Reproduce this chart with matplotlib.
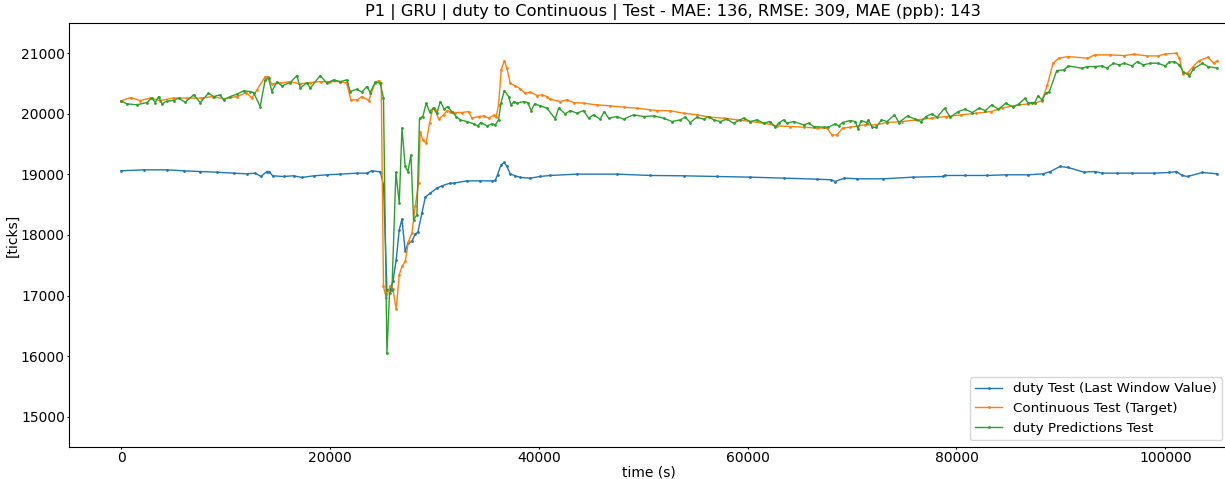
import matplotlib
matplotlib.use('Agg')
import matplotlib.pyplot as plt

# duty Test (Last Window Value)
t_duty = [0, 2140, 4370, 5970, 7570, 9170, 10760, 12040, 12840, 13380, 13950, 14180, 14500,
          15550, 16510, 17300, 18420, 19700, 20980, 22570, 23530, 24010, 24810, 25120, 25450,
          25770, 26020, 26340, 26630, 26890, 27200, 27460, 27840, 28160, 28410, 28800, 29130,
          29600, 30240, 30720, 31510, 31830, 33110, 34390, 35510, 35820, 36040, 36370, 36690,
          36940, 37260, 37740, 38220, 39180, 40130, 41090, 43650, 47480, 50670, 53860, 57050,
          60250, 63440, 66640, 68010, 68370, 69270, 70480, 73000, 75840, 78680, 78860, 80810,
          82940, 84720, 86860, 88300, 89000, 89900, 90700, 92180, 93250, 93970, 95380, 96800,
          98940, 100350, 101070, 101600, 102140, 103550, 104980]
v_duty = [19060, 19076, 19076, 19060, 19048, 19037, 19021, 19010, 19021, 18966, 19048, 19048, 18977,
          18966, 18977, 18950, 18977, 18994, 19005, 19021, 19021, 19060, 19043, 18829, 17096,
          17096, 17233, 17591, 18086, 18262, 17728, 17866, 17893, 18020, 18042, 18362, 18625,
          18691, 18774, 18812, 18857, 18856, 18894, 18894, 18894, 18900, 18994, 19158, 19197,
          19131, 19010, 18977, 18950, 18939, 18966, 18983, 19005, 19005, 18983, 18977, 18966,
          18955, 18939, 18922, 18911, 18883, 18939, 18928, 18928, 18955, 18966, 18983, 18983,
          18983, 18994, 18994, 19010, 19048, 19131, 19115, 19038, 19048, 19021, 19021, 19021,
          19021, 19032, 19048, 18983, 18966, 19032, 19010]

# Continuous Test (Target)
t_cont = [0, 900, 1800, 2800, 3700, 5000, 6300, 7600, 8800, 9800, 11100, 12000, 12500, 13000,
          13800, 14100, 14400, 15200, 16200, 17100, 18100, 19100, 20000, 21000, 21600, 22000,
          22600, 23050, 23700, 24330, 24650, 24900, 25120, 25380, 25770, 26020, 26340, 26630,
          26890, 27200, 27520, 27840, 28160, 28480, 28640, 28890, 29210, 29530, 29850, 30080,
          30400, 30880, 31190, 31510, 31990, 32630, 33270, 33590, 34230, 34710, 35190, 35660,
          35920, 36140, 36400, 36690, 36940, 37260, 37740, 38220, 38700, 39180, 39820, 40300,
          40770, 41090, 42050, 42690, 43330, 44280, 45560, 46840, 48110, 49390, 50670, 51310,
          52590, 53860, 55140, 56420, 57690, 58970, 60250, 61530, 62800, 64080, 65360, 66640,
          67600, 68070, 68550, 69090, 69800, 71220, 72290, 73350, 74770, 76190, 77610, 79030,
          80460, 81880, 83300, 84370, 85430, 86860, 87500, 88200, 88700, 89250, 89800, 90700,
          92540, 93250, 94670, 96090, 96980, 98230, 99290, 100000, 101070, 101350, 101700,
          102140, 102670, 103200, 104090, 104630, 104980]
v_cont = [20215, 20270, 20220, 20260, 20220, 20260, 20260, 20260, 20286, 20248, 20286, 20352, 20260, 20396,
          20616, 20616, 20490, 20506, 20533, 20495, 20517, 20533, 20533, 20533, 20506, 20231,
          20231, 20286, 20220, 20517, 20550, 20506, 17150, 16959, 17162, 17107, 16777, 17343,
          17481, 17563, 17893, 18031, 18471, 18857, 19708, 19571, 19516, 19846, 20094, 20066,
          19912, 19984, 20050, 20038, 20022, 20022, 20038, 19929, 19956, 19967, 19929, 19973,
          19956, 20148, 20726, 20880, 20754, 20506, 20462, 20413, 20341, 20358, 20303, 20314,
          20286, 20242, 20204, 20231, 20187, 20176, 20148, 20132, 20110, 20094, 20066, 20055,
          20050, 20011, 19984, 19945, 19929, 19901, 19873, 19846, 19802, 19791, 19780, 19764,
          19764, 19653, 19653, 19764, 19780, 19818, 19818, 19857, 19873, 19901, 19929, 19956,
          19984, 20011, 20038, 20094, 20132, 20165, 20176, 20220, 20478, 20836, 20919, 20946,
          20919, 20974, 20974, 20962, 20985, 20957, 20957, 20990, 21001, 20919, 20660,
          20676, 20781, 20875, 20935, 20836, 20880]

# duty Predictions Test
t_pred = [0, 540, 1500, 2460, 2940, 3260, 3580, 3900, 4370, 5010, 5490, 6130, 6930, 7570, 8360,
          8840, 9480, 9800, 10440, 11080, 11720, 12360, 12680, 13310, 13790, 14110, 14430, 14910,
          15390, 16190, 16830, 17150, 17790, 18100, 19060, 19700, 20340, 20980, 21620, 21930,
          22570, 23050, 23530, 23850, 24330, 24810, 25120, 25450, 25700, 25930, 26310, 26630,
          26890, 27200, 27460, 27750, 28000, 28320, 28570, 28890, 29210, 29530, 29920, 30240,
          30560, 30940, 31260, 31670, 32090, 32470, 33110, 33750, 34130, 34450, 35030, 35510,
          35820, 36140, 36370, 36690, 37100, 37330, 37640, 37900, 38540, 38920, 39270, 39590,
          40130, 40770, 41570, 41890, 42530, 43010, 43650, 44280, 44760, 45240, 45880, 46260,
          46680, 47480, 48110, 49070, 50030, 50990, 51950, 52750, 53540, 54020, 54500, 55140,
          55780, 56260, 56740, 57380, 58020, 58650, 59290, 59610, 60250, 60890, 61530, 62160,
          62640, 62960, 63440, 63760, 64400, 65360, 65840, 66320, 67280, 67740, 68370, 68730,
          69090, 69800, 70320, 70570, 70860, 71400, 71570, 71920, 72290, 72810, 73350, 74060,
          74490, 75310, 76020, 76630, 77080, 77610, 78150, 78860, 79400, 80170, 80810, 81520,
          82160, 82770, 83370, 84010, 84720, 85430, 85970, 86570, 86860, 87200, 87500, 87800,
          88200, 88550, 88900, 89600, 90300, 90700, 92010, 92540, 93250, 93970, 94390, 95030,
          95560, 96090, 96800, 97340, 97870, 98580, 99290, 100000, 100350, 100880, 101350,
          101700, 102310, 102670, 103550, 104090, 104980]
v_pred = [20215, 20165, 20150, 20187, 20260, 20187, 20286, 20165, 20210, 20220, 20260, 20190, 20314, 20187, 20341,
          20286, 20314, 20231, 20286, 20325, 20380, 20369, 20352, 20121, 20561, 20589, 20369, 20533,
          20462, 20517, 20633, 20424, 20517, 20424, 20633, 20506, 20561, 20533, 20561, 20369,
          20407, 20358, 20451, 20352, 20523, 20506, 20258, 16051, 17041, 17096, 19032, 18526,
          19764, 19131, 19048, 19323, 18251, 18334, 19928, 19956, 20176, 20038, 20094, 20011,
          20204, 20077, 20121, 20038, 19956, 19901, 19873, 19835, 19802, 19857, 19802, 19835,
          19818, 19901, 20176, 20385, 20286, 20148, 20204, 20176, 20204, 20187, 20055, 20165,
          20132, 20094, 19918, 20094, 20000, 20055, 20011, 20055, 19929, 19984, 19912, 20038,
          19929, 19956, 19912, 19984, 19956, 19967, 19929, 19873, 19901, 19945, 19857, 19945,
          19912, 19956, 19901, 19873, 19912, 19846, 19901, 19929, 19873, 19901, 19846, 19873,
          19780, 19846, 19901, 19846, 19873, 19818, 19846, 19791, 19780, 19780, 19835, 19802,
          19857, 19890, 19873, 19747, 19890, 19857, 19901, 19780, 19775, 19901, 19873, 19984,
          19857, 19967, 19912, 19873, 19956, 20000, 19945, 20094, 19945, 20038, 20077, 20022,
          20094, 20055, 20148, 20077, 20176, 20110, 20165, 20258, 20176, 20187, 20187, 20297,
          20231, 20341, 20369, 20715, 20726, 20792, 20754, 20781, 20781, 20792, 20754, 20836,
          20808, 20836, 20792, 20863, 20808, 20836, 20836, 20792, 20853, 20863, 20808,
          20698, 20627, 20737, 20836, 20781, 20754]

title = 'P1 | GRU | duty to Continuous | Test - MAE: 136, RMSE: 309, MAE (ppb): 143'

fig = plt.figure(figsize=(12.25, 4.79), dpi=100)
ax = fig.add_axes([69 / 1225, 32 / 479, 1160 / 1225, 424 / 479])

ax.plot(t_duty, v_duty, marker='.', markersize=2, linewidth=1, label='duty Test (Last Window Value)')
ax.plot(t_cont, v_cont, marker='.', markersize=2, linewidth=1, label='Continuous Test (Target)')
ax.plot(t_pred, v_pred, marker='.', markersize=2, linewidth=1, label='duty Predictions Test')

ax.set_xlim(-5000, 106100)
ax.set_ylim(14500, 21500)
ax.set_yticks(range(15000, 21001, 1000))
ax.tick_params(labelsize=10, length=1.5, pad=1.5)
ax.set_xlabel('time (s)', fontsize=10, labelpad=0)
ax.set_ylabel('[ticks]', fontsize=10, labelpad=1)
# title sits centred on the uncropped figure, a bit right of the axes centre
fig.text(673 / 1225, 1 - 12 / 479, title, fontsize=11.7, ha='center', va='center')
ax.legend(loc='lower right', fontsize=9.7)

fig.savefig('out.png', dpi=100)
